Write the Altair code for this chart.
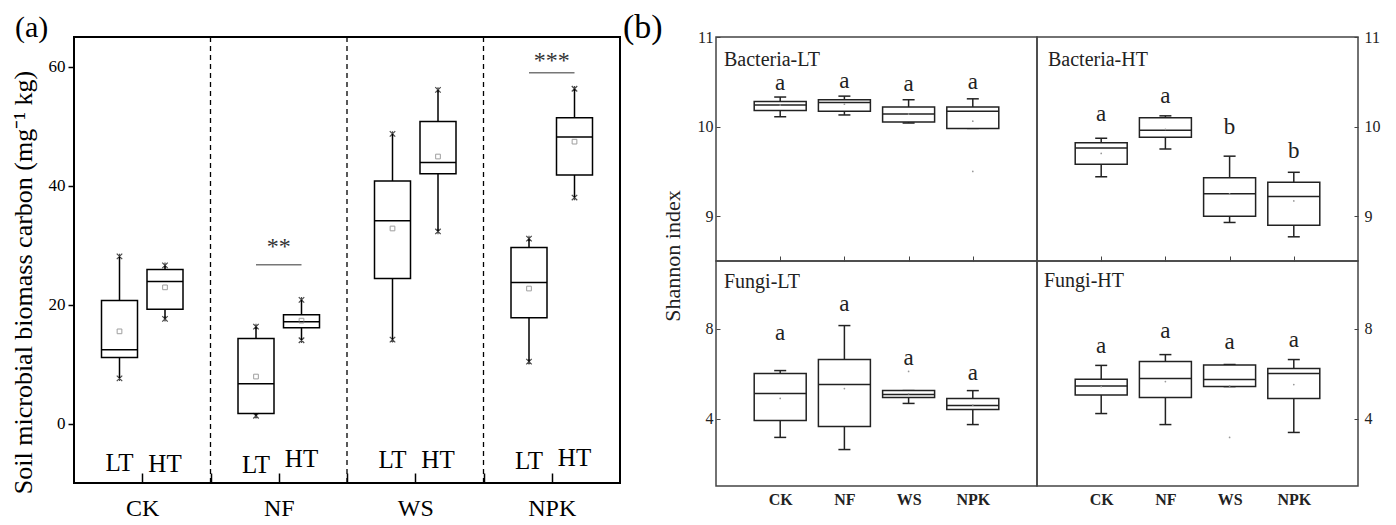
import altair as alt
import pandas as pd

FONT = "Liberation Serif"

# ---------------- panel (a) data ----------------
a_groups = ["CK", "NF", "WS", "NPK"]
a_temps = ["LT", "HT"]
# order: CK-LT, CK-HT, NF-LT, NF-HT, WS-LT, WS-HT, NPK-LT, NPK-HT
a_lo = [7.6, 17.6, 1.3, 14.0, 14.1, 32.3, 10.4, 38.0]
a_q1 = [11.1, 19.2, 1.7, 16.1, 24.4, 42.0, 17.8, 41.8]
a_median = [12.4, 23.9, 6.7, 17.1, 34.1, 43.9, 23.7, 48.2]
a_q3 = [20.7, 25.9, 14.3, 18.3, 40.8, 50.8, 29.6, 51.4]
a_hi = [28.1, 26.6, 16.3, 20.8, 48.7, 56.1, 31.1, 56.3]
a_mean = [15.5, 22.9, 7.9, 17.3, 32.8, 44.9, 22.7, 47.4]
a_label_y = [-6.6, -6.8, -7.0, -6.0, -6.1, -6.1, -6.3, -5.8]
a_boundaries = [1, 2, 3]

sig_groups = ["NF", "NPK"]
sig_line_y = [26.7, 59.0]
sig_text = ["**", "***"]
sig_text_y = [30.6, 61.8]

temp_shift = {"LT": 1 / 3, "HT": 2 / 3}
rows = []
k = 0
for gi, g in enumerate(a_groups):
    for t in a_temps:
        rows.append(dict(group=g, temp=t, pos=gi + temp_shift[t], lo=a_lo[k], q1=a_q1[k],
                         median=a_median[k], q3=a_q3[k], hi=a_hi[k], mean=a_mean[k],
                         ly=a_label_y[k]))
        k += 1
df_a = pd.DataFrame(rows)
df_a_caps = pd.concat([df_a[["pos"]].assign(v=df_a["lo"]), df_a[["pos"]].assign(v=df_a["hi"])])
df_bound = pd.DataFrame({"b": a_boundaries})
df_sig = pd.DataFrame({
    "x1": [a_groups.index(g) + 1 / 3 for g in sig_groups],
    "x2": [a_groups.index(g) + 2 / 3 for g in sig_groups],
    "xm": [a_groups.index(g) + 0.5 for g in sig_groups],
    "ly": sig_line_y, "ty": sig_text_y, "txt": sig_text,
})

xa_scale = alt.Scale(domain=[0, 4], nice=False, zero=False)
ya_scale = alt.Scale(domain=[-10, 65], nice=False, zero=False)
a_label_expr = " : ".join(
    f"datum.value == {i + 0.5} ? '{g}'" for i, g in enumerate(a_groups)) + " : ''"
xa_axis = alt.Axis(values=[0.5, 1, 1.5, 2, 2.5, 3, 3.5], offset=-10, tickSize=10, tickWidth=1.5,
                   tickColor="black", domain=False, grid=False, labelExpr=a_label_expr,
                   labelFontSize=24, labelPadding=13, labelColor="black", labelOverlap=False,
                   title=None)
ya_axis = alt.Axis(values=[0, 20, 40, 60], tickSize=6, tickWidth=1.5, tickColor="black",
                   domain=False, grid=False, labelFontSize=17, labelPadding=3, labelColor="black",
                   title="Soil microbial biomass carbon (mg\u207b\u00b9 kg)", titleFontSize=26,
                   titleFontWeight="normal", titleColor="black", titleX=-38, titleY=245)


def XA(f):
    return alt.X(f"{f}:Q", scale=xa_scale, axis=xa_axis)


def YA(f):
    return alt.Y(f"{f}:Q", scale=ya_scale, axis=ya_axis)


cap_path = "M-1,-1L1,1M-1,1L1,-1M0,-1L0,1"
a_layers = [
    alt.Chart(df_bound).mark_rule(strokeDash=[5, 4], color="black", strokeWidth=1.3).encode(x=XA("b")),
    alt.Chart(df_a).mark_rule(color="black", strokeWidth=1.5).encode(x=XA("pos"), y=YA("lo"), y2="hi"),
    alt.Chart(df_a).mark_rect(fill="white", stroke="black", strokeWidth=1.5, xOffset=-18, x2Offset=18)
    .encode(x=XA("pos"), x2="pos", y=YA("q1"), y2="q3"),
    alt.Chart(df_a).mark_rule(color="black", strokeWidth=1.5, xOffset=-18, x2Offset=18)
    .encode(x=XA("pos"), x2="pos", y=YA("median")),
    alt.Chart(df_a).mark_point(shape="square", filled=False, color="#777", size=22, strokeWidth=1)
    .encode(x=XA("pos"), y=YA("mean")),
    alt.Chart(df_a_caps).mark_point(shape=cap_path, filled=False, color="black", size=30, strokeWidth=1.2)
    .encode(x=XA("pos"), y=YA("v")),
    alt.Chart(df_a).mark_text(fontSize=25, baseline="middle", color="black")
    .encode(x=XA("pos"), y=YA("ly"), text="temp:N"),
    alt.Chart(df_sig).mark_rule(color="#777", strokeWidth=1.5).encode(x=XA("x1"), x2="x2", y=YA("ly")),
    alt.Chart(df_sig).mark_text(fontSize=24, baseline="middle", dy=5, color="#333")
    .encode(x=XA("xm"), y=YA("ty"), text="txt:N"),
    alt.Chart(df_bound.head(1)).mark_text(fontSize=30, align="left", baseline="alphabetic", color="black")
    .encode(x=alt.value(-59), y=alt.value(0), text=alt.value("(a)")),
]
panel_a = alt.layer(*a_layers).properties(
    width=546, height=446,
    view=alt.ViewBackground(stroke="black", strokeWidth=2),
)

# ---------------- panel (b) data ----------------
b_treat = ["CK", "NF", "WS", "NPK"]

bact_lt = dict(lo=[10.11, 10.13, 10.04, 9.98], q1=[10.18, 10.17, 10.05, 9.98],
               med=[10.24, 10.27, 10.14, 10.17], q3=[10.28, 10.30, 10.22, 10.22],
               hi=[10.33, 10.34, 10.30, 10.31], mean=[10.24, 10.25, 10.14, 10.06],
               letters=["a", "a", "a", "a"], ly=[10.49, 10.51, 10.48, 10.50],
               out_t=["NPK"], out_v=[9.50])
bact_ht = dict(lo=[9.44, 9.75, 8.93, 8.77], q1=[9.58, 9.88, 9.00, 8.90],
               med=[9.76, 9.96, 9.25, 9.22], q3=[9.82, 10.10, 9.43, 9.38],
               hi=[9.87, 10.12, 9.67, 9.49], mean=[9.70, 9.97, 9.25, 9.17],
               letters=["a", "a", "b", "b"], ly=[10.14, 10.34, 10.00, 9.73],
               out_t=[], out_v=[])
fungi_lt = dict(lo=[3.16, 2.62, 4.67, 3.73], q1=[3.91, 3.64, 4.93, 4.40],
                med=[5.11, 5.51, 5.07, 4.58], q3=[6.00, 6.62, 5.24, 4.89],
                hi=[6.13, 8.13, 5.24, 5.24], mean=[4.89, 5.33, 5.10, 4.60],
                letters=["a", "a", "a", "a"], ly=[7.82, 9.11, 6.71, 6.04],
                out_t=["WS"], out_v=[6.09])
fungi_ht = dict(lo=[4.22, 3.73, 5.42, 3.38], q1=[5.04, 4.93, 5.42, 4.89],
                med=[5.44, 5.78, 5.73, 6.00], q3=[5.75, 6.53, 6.38, 6.22],
                hi=[6.36, 6.84, 6.40, 6.62], mean=[5.42, 5.64, 5.45, 5.51],
                letters=["a", "a", "a", "a"], ly=[7.24, 7.87, 7.42, 7.51],
                out_t=["WS"], out_v=[3.16])

top_domain = [8.5, 11]
top_ticks = [9, 10, 11]
bottom_domain = [1, 11]
bottom_ticks = [4, 8]

b_label_expr = "[" + ",".join(f"'{t}'" for t in b_treat) + "][datum.value - 1]"
EDGE = "#444"
INK = "#222"


def b_panel(d, name, ydom, yticks, side, bottom_row, height, name_dx, name_dy, extra=()):
    df = pd.DataFrame({"treat": b_treat, "pos": [i + 1 for i in range(len(b_treat))],
                       "lo": d["lo"], "q1": d["q1"], "med": d["med"], "q3": d["q3"],
                       "hi": d["hi"], "mean": d["mean"], "letter": d["letters"], "ly": d["ly"]})
    caps = pd.concat([df[["pos"]].assign(v=df["lo"]), df[["pos"]].assign(v=df["hi"])])
    outs = pd.DataFrame({"pos": [b_treat.index(t) + 1 for t in d["out_t"]], "v": d["out_v"]})
    xs = alt.Scale(domain=[0, 5], nice=False, zero=False)
    ys = alt.Scale(domain=ydom, nice=False, zero=False)
    if bottom_row:
        xaxis = alt.Axis(values=[1, 2, 3, 4], ticks=False, labelExpr=b_label_expr, labelFontSize=16,
                         labelFontWeight="bold", labelPadding=5, domain=False, grid=False,
                         title=None, labelColor=INK, labelFlush=False)
    else:
        xaxis = alt.Axis(values=[1, 2, 3, 4], offset=-5, tickSize=5, tickColor=EDGE, tickWidth=1,
                         labels=False, domain=False, grid=False, title=None)
    yaxis = alt.Axis(values=yticks, orient=side, offset=-4, tickSize=4, tickColor=EDGE, tickWidth=1,
                     domain=False, grid=False, labelFontSize=16, labelColor=INK,
                     labelPadding=3 if side == "left" else 6, title=None)

    def X(f):
        return alt.X(f"{f}:Q", scale=xs, axis=xaxis)

    def Y(f):
        return alt.Y(f"{f}:Q", scale=ys, axis=yaxis)

    layers = [
        alt.Chart(df).mark_rule(color=INK, strokeWidth=1.5).encode(x=X("pos"), y=Y("lo"), y2="hi"),
        alt.Chart(caps).mark_rule(color=INK, strokeWidth=1.5, xOffset=-6, x2Offset=6)
        .encode(x=X("pos"), x2="pos", y=Y("v")),
        alt.Chart(df).mark_rect(fill="white", stroke=INK, strokeWidth=1.5, xOffset=-26, x2Offset=26)
        .encode(x=X("pos"), x2="pos", y=Y("q1"), y2="q3"),
        alt.Chart(df).mark_rule(color=INK, strokeWidth=1.5, xOffset=-26, x2Offset=26)
        .encode(x=X("pos"), x2="pos", y=Y("med")),
        alt.Chart(df).mark_point(shape="circle", filled=True, color="#999", size=3, opacity=1)
        .encode(x=X("pos"), y=Y("mean")),
        alt.Chart(df).mark_text(fontSize=23, baseline="middle", color=INK)
        .encode(x=X("pos"), y=Y("ly"), text="letter:N"),
        alt.Chart(df.head(1)).mark_text(fontSize=20, align="left", baseline="alphabetic", color=INK)
        .encode(x=alt.value(name_dx), y=alt.value(name_dy), text=alt.value(name)),
    ]
    if len(outs):
        layers.append(alt.Chart(outs).mark_point(shape="circle", filled=True, color="#999", size=3, opacity=1)
                      .encode(x=X("pos"), y=Y("v")))
    layers.extend(extra)
    return alt.layer(*layers).properties(
        width=321, height=height,
        view=alt.ViewBackground(stroke=EDGE, strokeWidth=1.5),
    )


one = pd.DataFrame({"k": [0]})
b_tag = alt.Chart(one).mark_text(
    fontSize=34, align="left", baseline="alphabetic", color="black"
).encode(x=alt.value(-93), y=alt.value(1), text=alt.value("(b)"))
shannon = alt.Chart(one).mark_text(
    fontSize=22, align="center", baseline="bottom", angle=270, color=INK
).encode(x=alt.value(-31), y=alt.value(219), text=alt.value("Shannon index"))

p1 = b_panel(bact_lt, "Bacteria-LT", top_domain, top_ticks, "left", False, 224, 8, 29,
             extra=(b_tag, shannon))
p2 = b_panel(bact_ht, "Bacteria-HT", top_domain, top_ticks, "right", False, 224, 11, 29)
p3 = b_panel(fungi_lt, "Fungi-LT", bottom_domain, bottom_ticks, "left", True, 225, 8, 27)
p4 = b_panel(fungi_ht, "Fungi-HT", bottom_domain, bottom_ticks, "right", True, 225, 7, 26)

panel_b = alt.concat(p1, p2, p3, p4, columns=2, spacing=0, bounds="flush")

chart = alt.hconcat(panel_a, panel_b, spacing=1).properties(
    padding={"top": 2, "left": 0, "right": 0, "bottom": 0}, background="white"
).configure(font=FONT).configure_axis(labelFont=FONT, titleFont=FONT).configure_title(font=FONT)

chart.save("out.html", embed_options={"renderer": "svg", "actions": False})
